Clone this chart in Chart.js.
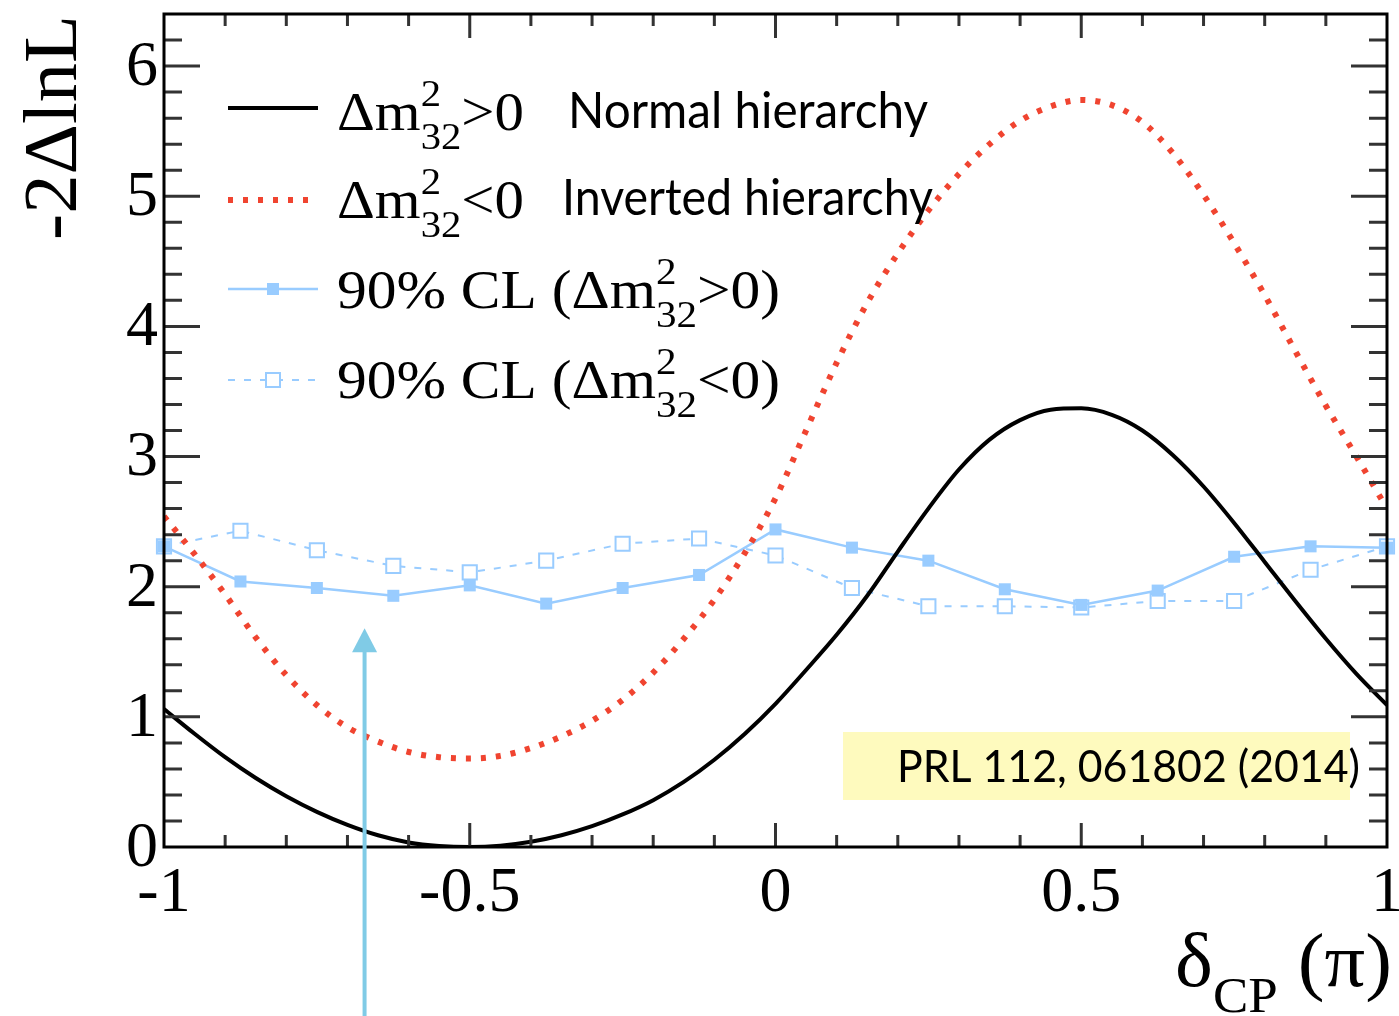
<!DOCTYPE html>
<html lang="en">
<head>
<meta charset="UTF-8">
<title>-2ΔlnL vs δCP</title>
<style>
  html, body { margin: 0; padding: 0; background: #fff; }
</style>
</head>
<body>
<canvas id="chart" width="1399" height="1016"></canvas>

<script src="https://cdn.jsdelivr.net/npm/chart.js"></script>
<script>
  // delta_CP grid (units of pi) for the likelihood curves
  const curveX = [-1.00, -0.95, -0.90, -0.85, -0.80, -0.75, -0.70, -0.65, -0.60, -0.55,
                  -0.50, -0.45, -0.40, -0.35, -0.30, -0.25, -0.20, -0.15, -0.10, -0.05,
                   0.00,  0.05,  0.10,  0.15,  0.20,  0.25,  0.30,  0.35,  0.40,  0.45,
                   0.50,  0.55,  0.60,  0.65,  0.70,  0.75,  0.80,  0.85,  0.90,  0.95, 1.00];

  // -2 delta lnL, normal hierarchy
  const normalHier = [1.06, 0.87, 0.69, 0.53, 0.39, 0.27, 0.17, 0.09, 0.035, 0.008,
                      0.00, 0.01, 0.04, 0.09, 0.16, 0.25, 0.36, 0.50, 0.67, 0.87,
                      1.10, 1.36, 1.63, 1.93, 2.27, 2.60, 2.90, 3.13, 3.28, 3.36,
                      3.37, 3.32, 3.20, 3.01, 2.77, 2.49, 2.19, 1.89, 1.60, 1.33, 1.09];

  // -2 delta lnL, inverted hierarchy
  const invertedHier = [2.54, 2.25, 1.94, 1.61, 1.32, 1.09, 0.92, 0.81, 0.73, 0.69,
                        0.68, 0.70, 0.76, 0.85, 0.97, 1.13, 1.34, 1.60, 1.90, 2.26,
                        2.68, 3.20, 3.72, 4.18, 4.56, 4.89, 5.17, 5.40, 5.58, 5.69,
                        5.74, 5.70, 5.57, 5.33, 5.01, 4.64, 4.24, 3.81, 3.39, 3.00, 2.60];

  // 90% CL critical values
  const clX = [-1, -0.875, -0.75, -0.625, -0.5, -0.375, -0.25, -0.125,
               0, 0.125, 0.25, 0.375, 0.5, 0.625, 0.75, 0.875, 1];
  const clNormal = [2.31, 2.04, 1.99, 1.93, 2.01, 1.87, 1.99, 2.09,
                    2.44, 2.30, 2.20, 1.98, 1.86, 1.97, 2.23, 2.31, 2.30];
  const clInverted = [2.31, 2.43, 2.28, 2.16, 2.11, 2.20, 2.33, 2.37,
                      2.24, 1.99, 1.85, 1.85, 1.84, 1.89, 1.89, 2.13, 2.31];

  const xTickValues = [-1, -0.5, 0, 0.5, 1];
  const xTickLabels = ['-1', '-0.5', '0', '0.5', '1'];
  const yTickValues = [0, 1, 2, 3, 4, 5, 6];
  const yTickLabels = ['0', '1', '2', '3', '4', '5', '6'];

  // arrow annotation (delta_CP, tip height)
  const arrowAt = -0.672;
  const arrowTip = 1.68;

  const RED = 'rgb(240, 68, 48)';
  const BLUE = '#99ccff';
  const SERIF = '"Liberation Serif", "DejaVu Serif", serif';
  const SANS = 'Lato, "Open Sans", sans-serif';

  const pts = (xs, ys) => xs.map((v, i) => ({ x: v, y: ys[i] }));

  // draws text pieces (with stacked sup/sub) squeezed to a given width
  function richText(ctx, parts, x, y, width) {
    let natural = 0;
    parts.forEach(p => {
      ctx.font = p.font;
      if (p.sup !== undefined) {
        p.w = Math.max(ctx.measureText(p.sup).width, ctx.measureText(p.sub).width);
      } else {
        p.w = ctx.measureText(p.t).width;
      }
      natural += p.w;
    });
    const sx = width ? width / natural : 1;
    ctx.save();
    ctx.translate(x, y);
    ctx.scale(sx, 1);
    ctx.textAlign = 'left';
    ctx.textBaseline = 'alphabetic';
    let cx = 0;
    parts.forEach(p => {
      ctx.font = p.font;
      if (p.sup !== undefined) {
        ctx.fillText(p.sup, cx, p.supDy);
        ctx.fillText(p.sub, cx, p.subDy);
      } else {
        ctx.fillText(p.t, cx, p.dy || 0);
      }
      cx += p.w;
    });
    ctx.restore();
  }

  function dm2(sign, pre, post) {
    return [
      { t: pre + 'Δm', font: '55px ' + SERIF },
      { sup: '2', sub: '32', font: '38px ' + SERIF, supDy: -24, subDy: 19 },
      { t: sign + post, font: '55px ' + SERIF }
    ];
  }

  const decorations = {
    id: 'decorations',
    afterDatasetsDraw(chart) {
      const { ctx, chartArea: a, scales: { x, y } } = chart;
      ctx.save();

      // frame and inward ticks
      ctx.strokeStyle = '#333';
      ctx.lineWidth = 3;
      ctx.beginPath();
      for (let i = 1; i < 32; i++) {
        const py = y.getPixelForValue(i * 0.2);
        const len = i % 5 === 0 ? 36 : 18;
        ctx.moveTo(a.left, py); ctx.lineTo(a.left + len, py);
        ctx.moveTo(a.right, py); ctx.lineTo(a.right - len, py);
      }
      for (let i = 1; i < 20; i++) {
        const px = x.getPixelForValue(-1 + i * 0.1);
        const len = i % 5 === 0 ? 24 : 12;
        ctx.moveTo(px, a.bottom); ctx.lineTo(px, a.bottom - len);
        ctx.moveTo(px, a.top); ctx.lineTo(px, a.top + len);
      }
      ctx.stroke();
      ctx.strokeStyle = '#000';
      ctx.strokeRect(a.left, a.top, a.right - a.left, a.bottom - a.top);

      // tick labels
      ctx.fillStyle = '#000';
      ctx.font = '64px ' + SERIF;
      ctx.textAlign = 'right';
      ctx.textBaseline = 'middle';
      yTickValues.forEach((v, i) => ctx.fillText(yTickLabels[i], a.left - 6, y.getPixelForValue(v) + 2));
      ctx.textAlign = 'center';
      ctx.textBaseline = 'alphabetic';
      xTickValues.forEach((v, i) => ctx.fillText(xTickLabels[i], x.getPixelForValue(v), a.bottom + 64));

      // axis titles
      ctx.save();
      ctx.translate(76, 240);
      ctx.rotate(-Math.PI / 2);
      richText(ctx, [{ t: '-2ΔlnL', font: '76px ' + SERIF }], 0, 0, 225);
      ctx.restore();
      richText(ctx, [
        { t: 'δ', font: '76px ' + SERIF },
        { t: 'CP', font: '50px ' + SERIF, dy: 26 },
        { t: ' (π)', font: '76px ' + SERIF }
      ], 1175, 986, 217);

      // legend
      ctx.lineWidth = 4;
      ctx.strokeStyle = '#000';
      ctx.beginPath(); ctx.moveTo(228, 108); ctx.lineTo(318, 108); ctx.stroke();
      ctx.strokeStyle = RED;
      ctx.lineWidth = 6;
      ctx.setLineDash([5, 10]);
      ctx.beginPath(); ctx.moveTo(228, 200); ctx.lineTo(318, 200); ctx.stroke();
      ctx.strokeStyle = BLUE;
      ctx.lineWidth = 2.5;
      ctx.setLineDash([]);
      ctx.beginPath(); ctx.moveTo(228, 289); ctx.lineTo(318, 289); ctx.stroke();
      ctx.fillStyle = BLUE;
      ctx.fillRect(267, 283, 12, 12);
      ctx.lineWidth = 2;
      ctx.setLineDash([7, 9]);
      ctx.beginPath(); ctx.moveTo(228, 380); ctx.lineTo(318, 380); ctx.stroke();
      ctx.setLineDash([]);
      ctx.fillStyle = '#fff';
      ctx.fillRect(266, 373, 14, 14);
      ctx.strokeRect(266, 373, 14, 14);

      ctx.fillStyle = '#000';
      richText(ctx, dm2('>', '', '0'), 337, 130, 187);
      richText(ctx, dm2('<', '', '0'), 337, 218, 187);
      richText(ctx, dm2('>', '90% CL (', '0)'), 337, 308, 443);
      richText(ctx, dm2('<', '90% CL (', '0)'), 337, 398, 443);
      richText(ctx, [{ t: 'Normal hierarchy', font: '50px ' + SANS }], 568, 128, 360);
      richText(ctx, [{ t: 'Inverted hierarchy', font: '50px ' + SANS }], 562, 215, 371);

      // reference box
      ctx.fillStyle = 'rgb(254, 250, 190)';
      ctx.fillRect(843, 732, 507, 68);
      ctx.fillStyle = '#000';
      richText(ctx, [{ t: 'PRL 112, 061802 (2014)', font: '44px ' + SANS }], 897, 782, 463);

      // arrow
      const ax = x.getPixelForValue(arrowAt);
      const tip = y.getPixelForValue(arrowTip);
      ctx.strokeStyle = 'rgb(128, 203, 230)';
      ctx.fillStyle = 'rgb(128, 203, 230)';
      ctx.lineWidth = 4;
      ctx.beginPath(); ctx.moveTo(ax, chart.height); ctx.lineTo(ax, tip + 20); ctx.stroke();
      ctx.beginPath();
      ctx.moveTo(ax, tip);
      ctx.lineTo(ax - 12.5, tip + 24);
      ctx.lineTo(ax + 12.5, tip + 24);
      ctx.closePath();
      ctx.fill();

      ctx.restore();
    }
  };

  const data = {
    datasets: [
      {
        label: 'Normal hierarchy',
        data: pts(curveX, normalHier),
        showLine: true,
        borderColor: '#000',
        borderWidth: 4,
        pointRadius: 0,
        cubicInterpolationMode: 'monotone'
      },
      {
        label: 'Inverted hierarchy',
        data: pts(curveX, invertedHier),
        showLine: true,
        borderColor: RED,
        borderWidth: 6,
        borderDash: [5, 10],
        pointRadius: 0,
        cubicInterpolationMode: 'monotone'
      },
      {
        label: '90% CL (NH)',
        data: pts(clX, clNormal),
        showLine: true,
        borderColor: BLUE,
        borderWidth: 2.5,
        pointStyle: 'rect',
        pointRadius: 8.5,
        pointBackgroundColor: BLUE,
        pointBorderWidth: 0,
        clip: false
      },
      {
        label: '90% CL (IH)',
        data: pts(clX, clInverted),
        showLine: true,
        borderColor: BLUE,
        borderWidth: 2,
        borderDash: [7, 9],
        pointStyle: 'rect',
        pointRadius: 10,
        pointBackgroundColor: '#fff',
        pointBorderColor: BLUE,
        pointBorderWidth: 2,
        clip: false
      }
    ]
  };

  const config = {
    type: 'scatter',
    data: data,
    options: {
      responsive: false,
      animation: false,
      layout: {
        padding: { left: 164, right: 11, top: 14, bottom: 169 }
      },
      plugins: {
        legend: { display: false },
        tooltip: { enabled: false }
      },
      scales: {
        x: { type: 'linear', min: -1, max: 1, display: false },
        y: { type: 'linear', min: 0, max: 6.4, display: false }
      }
    },
    plugins: [decorations]
  };

  const chart = new Chart(document.getElementById('chart'), config);
</script>
</body>
</html>
